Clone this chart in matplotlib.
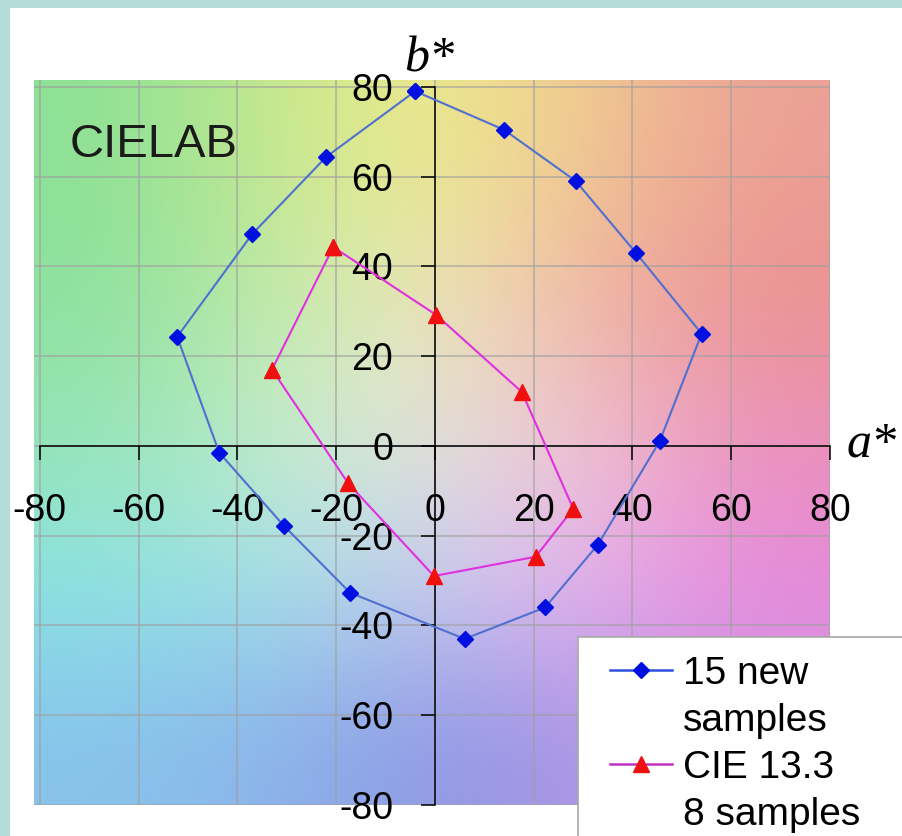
import numpy as np
import matplotlib.pyplot as plt
from matplotlib.patches import Rectangle
from matplotlib.lines import Line2D

plt.rcParams['font.family'] = ['Liberation Sans', 'DejaVu Sans']

# 15 new samples (a*, b*)
new_a = [-4, 14, 28.5, 40.7, 54, 45.5, 33, 22.3, 6, -17.2, -30.6, -43.7, -52.2, -37, -22]
new_b = [79, 70.4, 59, 43, 25, 1, -22, -36, -43, -32.7, -17.8, -1.5, 24.3, 47.2, 64.4]
# CIE 13.3 8 samples
cie_a = [-20.6, 0.2, 17.6, 28, 20.4, -0.2, -17.6, -33]
cie_b = [44.3, 29.2, 12, -14, -24.7, -29, -8.3, 17]

ticks = [-80, -60, -40, -20, 0, 20, 40, 60, 80]
tick_labels = ['-80', '-60', '-40', '-20', '0', '20', '40', '60', '80']

# rough background colours of the a*b* plane, rows b=80..-80, cols a=-80..80
bg = np.array([
    [(140, 225, 150), (200, 232, 140), (238, 236, 140), (240, 200, 145), (236, 160, 150)],
    [(140, 225, 158), (192, 234, 168), (240, 232, 188), (240, 178, 162), (235, 145, 142)],
    [(150, 228, 182), (198, 238, 205), (228, 228, 222), (240, 195, 210), (235, 145, 188)],
    [(140, 228, 230), (160, 225, 234), (200, 205, 240), (235, 175, 240), (230, 135, 222)],
    [(135, 195, 235), (140, 180, 235), (140, 150, 228), (170, 150, 230), (210, 150, 225)],
]) / 255.0

fig = plt.figure(figsize=(9.02, 8.36), dpi=100, facecolor='#b4dcd8')
fig.patches.append(Rectangle((10 / 902, 0), 1, 1 - 8 / 836, transform=fig.transFigure,
                             facecolor='white', edgecolor='none', zorder=-10))

ax = fig.add_axes([34 / 902, 31 / 836, 796 / 902, 725 / 836])
xlim = (-81.2, 80)
ylim = (-80, 81.5)
ax.imshow(bg, extent=(xlim[0], xlim[1], ylim[0], ylim[1]), aspect='auto',
          interpolation='bicubic', zorder=0)
ax.set_xlim(xlim)
ax.set_ylim(ylim)

for t in ticks:
    ax.axvline(t, color='#a0a0a0', lw=1.2, alpha=0.7, zorder=1)
    ax.axhline(t, color='#a0a0a0', lw=1.2, alpha=0.7, zorder=1)

ax.plot(new_a + new_a[:1], new_b + new_b[:1], color='#5070d0', lw=1.5,
        marker='D', markersize=8, markerfacecolor='#0010e0', markeredgecolor='#0010e0', zorder=3)
ax.plot(cie_a + cie_a[:1], cie_b + cie_b[:1], color='#e030e0', lw=1.5,
        marker='^', markersize=12, markerfacecolor='#f01010', markeredgecolor='#f01010', zorder=3)

for s in ['top', 'right']:
    ax.spines[s].set_visible(False)
ax.spines['left'].set_position(('data', 0))
ax.spines['bottom'].set_position(('data', 0))
ax.spines['left'].set_bounds(-80, 80)
ax.spines['bottom'].set_bounds(-80, 80)
for s in ['left', 'bottom']:
    ax.spines[s].set_linewidth(1.1)
    ax.spines[s].set_zorder(2)

ax.set_xticks(ticks)
ax.set_xticklabels(tick_labels)
ax.set_yticks(ticks)
ax.set_yticklabels(tick_labels)
ax.tick_params(axis='both', direction='out', length=10, width=1.1, labelsize=27)
ax.tick_params(axis='x', pad=24)
ax.tick_params(axis='y', pad=20)

ax.text(-74, 67, 'CIELAB', fontsize=34, va='center', ha='left', color='#1a1a1a')
ax.text(-6.3, 83.3, 'b*', fontsize=36, family='Liberation Serif', style='italic',
        ha='left', va='baseline', clip_on=False)
ax.text(83.3, -2.4, 'a*', fontsize=36, family='Liberation Serif', style='italic',
        ha='left', va='baseline', clip_on=False)

# legend box runs off the right and bottom edges
fig.patches.append(Rectangle((578 / 902, -0.05), 0.5, 0.05 + 1 - 637 / 836,
                             transform=fig.transFigure, facecolor='white',
                             edgecolor='#a8a8a8', lw=1.2, zorder=5))

blank = Line2D([], [], linestyle='none')
handles = [
    Line2D([], [], color='#3050e0', lw=1.8, marker='D', markersize=8,
           markerfacecolor='#0010e0', markeredgecolor='#0010e0'),
    blank,
    Line2D([], [], color='#c030c0', lw=1.8, marker='^', markersize=12,
           markerfacecolor='#f01010', markeredgecolor='#f01010'),
    blank,
]
leg = fig.legend(handles, ['15 new', 'samples', 'CIE 13.3', '8 samples'],
                 loc='upper left', bbox_to_anchor=(610 / 902, 1 - 656 / 836),
                 fontsize=28, frameon=False, borderpad=0, borderaxespad=0,
                 handlelength=1.6, handletextpad=0.28, labelspacing=0.28)
leg.set_zorder(6)

fig.savefig('out.png', dpi=100)
